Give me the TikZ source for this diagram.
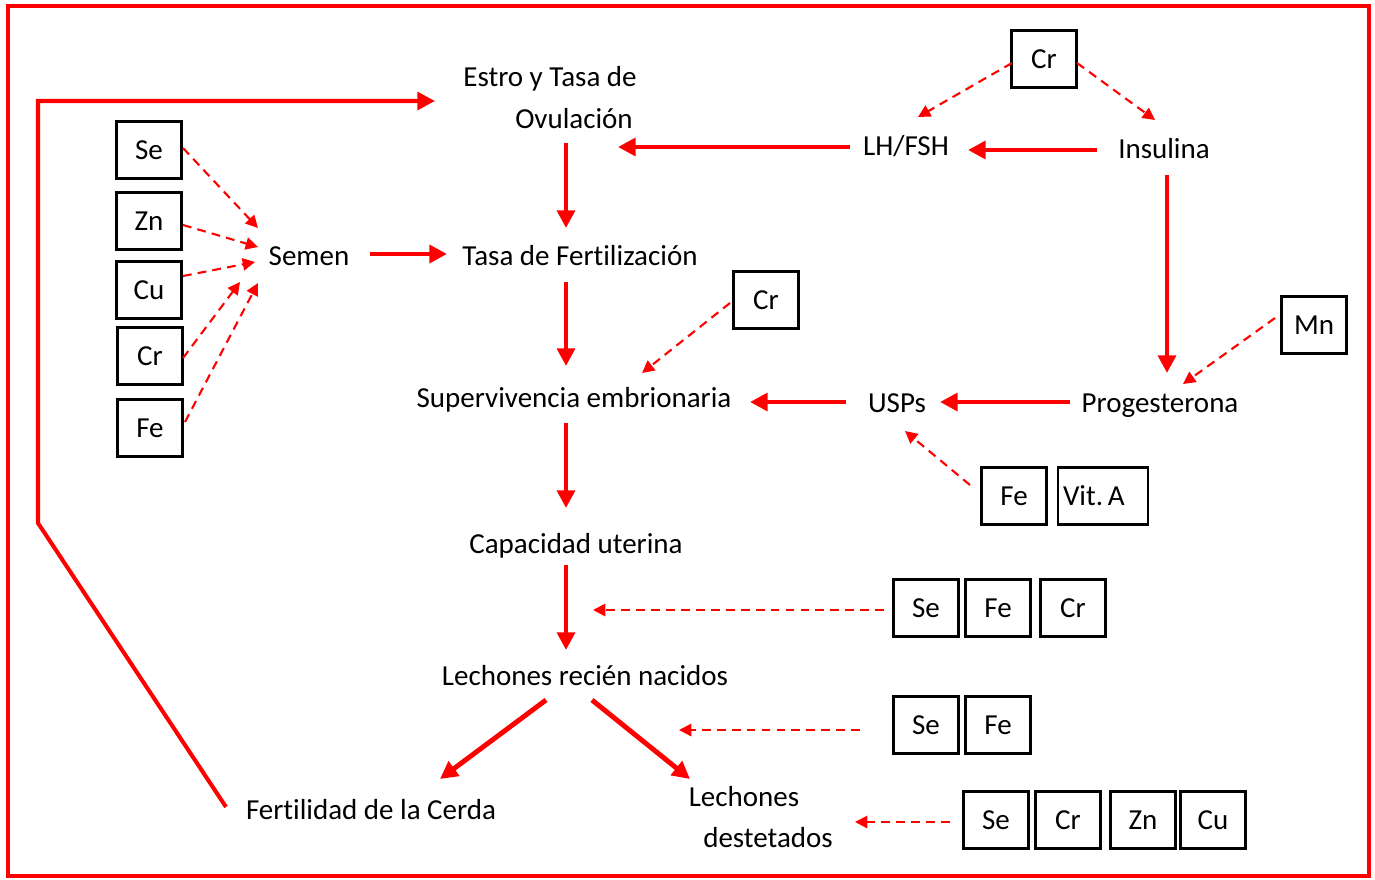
\documentclass[tikz,border=0pt]{standalone}
\usepackage{fontspec}
\setmainfont{Carlito}[Ligatures={NoCommon,NoContextual},Contextuals=NoAlternate]
\usetikzlibrary{arrows.meta,calc}
\definecolor{ared}{RGB}{255,0,0}
\begin{document}
\begin{tikzpicture}[x=0.02cm,y=-0.02cm,
 txt/.style={font=\fontsize{16.5}{20}\selectfont, inner sep=0pt, text height=12.5pt, text depth=2pt},
 bx/.style={draw=black, line width=1.2pt, minimum width=1.3cm, minimum height=1.14cm, inner sep=0pt, text height=12.5pt, text depth=2pt, font=\fontsize{16.5}{20}\selectfont},
 sarr/.style={draw=ared, line width=2.8pt, -{Triangle[length=10pt,width=10pt]}},
 darr/.style={draw=ared, line width=1.2pt, dash pattern=on 5pt off 3.5pt, -{Triangle[length=7pt,width=7pt]}},
 frame/.style={draw=ared, line width=2.3pt},
]
\useasboundingbox (0,0) rectangle (1375,879);
\draw[frame] (8,6) rectangle (1369,876);

% text nodes
\node[txt] (estroA) at (550,77) {Estro y Tasa de};
\node[txt] (estroB) at (574,119) {Ovulación};
\node[txt] (tasa) at (580,256) {Tasa de Fer{}tilización};
\node[txt] (semen) at (309,256) {Semen};
\node[txt] (superv) at (574,398) {Supervivencia embrionaria};
\node[txt] (capac) at (576,544) {Capacidad uterina};
\node[txt] (lrn) at (585,676) {Lechones recién nacidos};
\node[txt] (fert) at (371,810) {Fer{}tilidad de la Cerda};
\node[txt] (lechA) at (744,797) {Lechones};
\node[txt] (lechB) at (768,838) {destetados};
\node[txt] (lh) at (906,146) {LH/FSH};
\node[txt] (insul) at (1164,149) {Insulina};
\node[txt] (prog) at (1160,403) {Progesterona};
\node[txt] (usps) at (897,403) {USPs};

% boxes
\node[bx] (crTop) at (1044,59) {Cr};
\node[bx] (se1) at (149,150) {Se};
\node[bx] (zn1) at (149,221) {Zn};
\node[bx] (cu1) at (149,290) {Cu};
\node[bx] (cr1) at (150,356) {Cr};
\node[bx] (fe1) at (150,428) {Fe};
\node[bx] (crMid) at (766,300) {Cr};
\node[bx] (mn) at (1314,325) {Mn};
\node[bx] (feU) at (1014,496) {Fe};
\node[bx, text width=1.6cm, inner xsep=0.1cm, align=left] (vitA) at (1103,496) {Vit.\,A};
\node[bx] (se2) at (926,608) {Se};
\node[bx] (fe2) at (998,608) {Fe};
\node[bx] (cr2) at (1073,608) {Cr};
\node[bx] (se3) at (926,725) {Se};
\node[bx] (fe3) at (998,725) {Fe};
\node[bx] (se4) at (996,820) {Se};
\node[bx] (cr4) at (1068,820) {Cr};
\node[bx] (zn4) at (1143,820) {Zn};
\node[bx] (cu4) at (1213,820) {Cu};

% feedback loop
\coordinate (fbA) at (38,523);
\coordinate (fbB) at (38,101);
\draw[draw=ared, line width=2.3pt, -{Triangle[length=10pt,width=10pt]}]
  ($(fert)+(-145,-3)$) -- (fbA) -- (fbB) -- ($(estroA)+(-115,24)$);

% solid arrows
\draw[sarr] ($(estroB)+(-8,24)$) -- ($(tasa)+(-14,-28)$);
\draw[sarr] ($(lh)+(-56,1)$) -- ($(estroB)+(44,28)$);
\draw[sarr] ($(insul)+(-67,1)$) -- ($(lh)+(62,4)$);
\draw[sarr] ($(insul)+(3,26)$) -- ($(prog)+(7,-30)$);
\draw[sarr] ($(prog)+(-90,-1)$) -- ($(usps)+(43,-1)$);
\draw[sarr] ($(usps)+(-51,-1)$) -- ($(superv)+(176,4)$);
\draw[sarr] ($(semen)+(61,-2)$) -- ($(tasa)+(-133,-2)$);
\draw[sarr] ($(tasa)+(-14,26)$) -- ($(superv)+(-8,-32)$);
\draw[sarr] ($(superv)+(-8,25)$) -- ($(capac)+(-10,-36)$);
\draw[sarr] ($(capac)+(-10,21)$) -- ($(lrn)+(-19,-26)$);
\draw[sarr] ($(lrn)+(-39,24)$) -- ($(fert)+(69,-31)$);
\draw[sarr] ($(lrn)+(7,24)$) -- ($(lechA)+(-54,-18)$);

% dashed arrows
\draw[darr] ($(crTop)+(-32,4)$) -- ($(lh)+(12,-29)$);
\draw[darr] ($(crTop)+(33,4)$) -- ($(insul)+(-9,-29)$);
\draw[darr] ($(mn)+(-39,-7)$) -- ($(prog)+(23,-19)$);
\draw[darr] ($(feU)+(-44,-11)$) -- ($(usps)+(8,28)$);
\draw[darr] ($(crMid)+(-36,3)$) -- ($(superv)+(68,-25)$);
\draw[darr] ($(se1)+(34,-2)$) -- ($(semen)+(-51,-28)$);
\draw[darr] ($(zn1)+(34,4)$) -- ($(semen)+(-51,-9)$);
\draw[darr] ($(cu1)+(34,-14)$) -- ($(semen)+(-54,6)$);
\draw[darr] ($(cr1)+(33,2)$) -- ($(semen)+(-69,26)$);
\draw[darr] ($(fe1)+(35,-6)$) -- ($(semen)+(-51,27)$);
\draw[darr] ($(se2)+(-42,2)$) -- ($(capac)+(17,66)$);
\draw[darr] ($(se3)+(-66,5)$) -- ($(lrn)+(94,54)$);
\draw[darr] ($(se4)+(-46,2)$) -- ($(lechB)+(87,-16)$);
\end{tikzpicture}
\end{document}
